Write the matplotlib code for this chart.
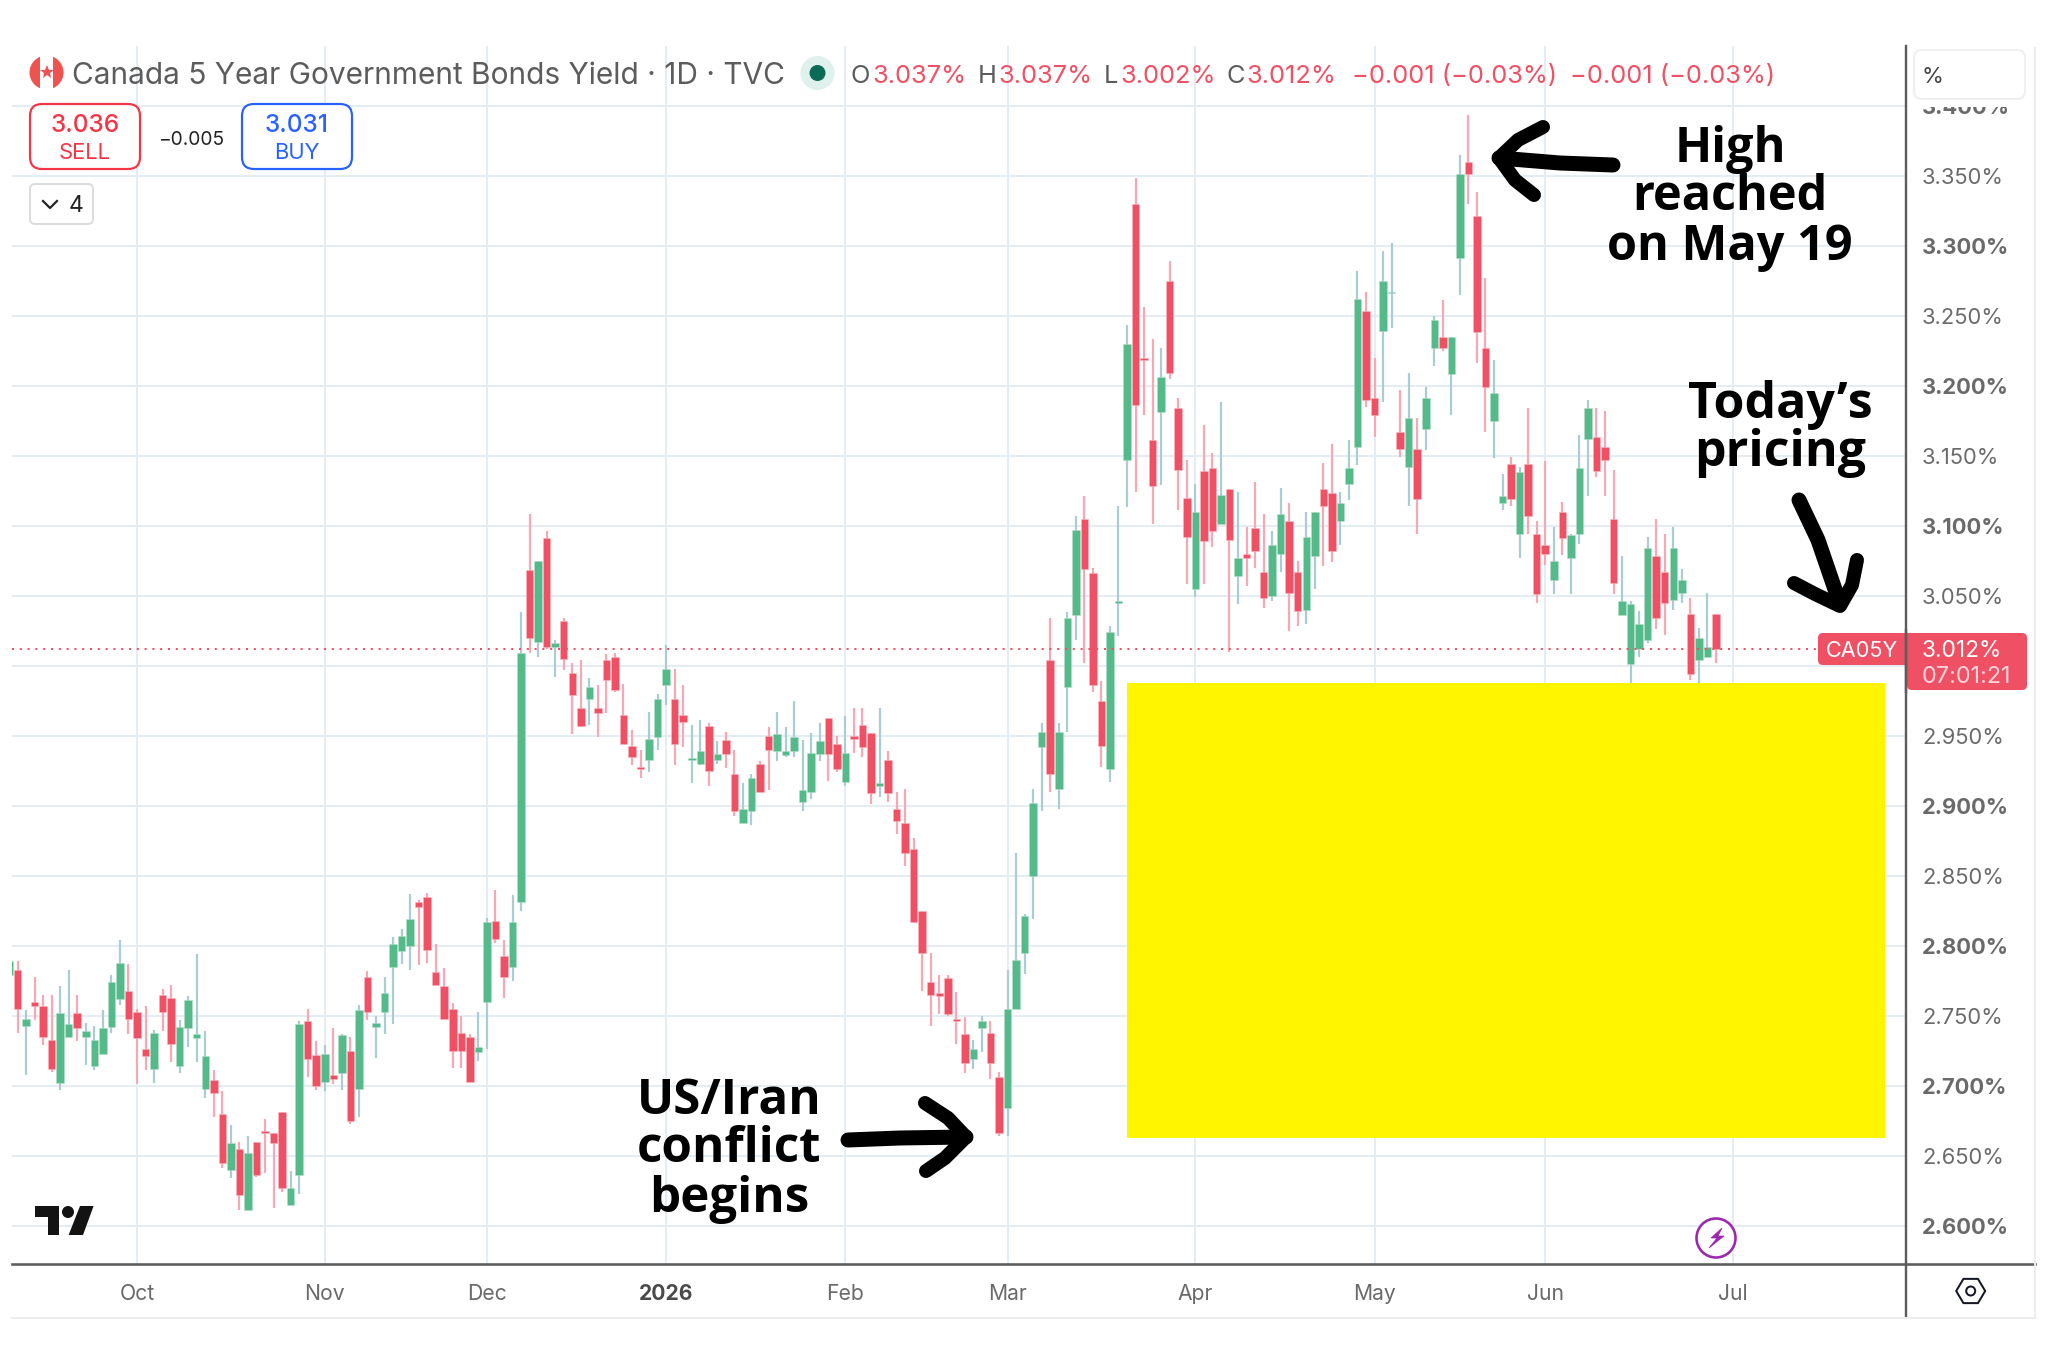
"Canada 5Y yield candles with the TradingView chrome and hand drawn notes"

import numpy as np
import matplotlib
matplotlib.use('Agg')
import matplotlib.pyplot as plt
from matplotlib.patches import Rectangle, Circle, FancyBboxPatch, Polygon

opens = [
    2.779, 2.783, 2.743, 2.760, 2.757, 2.733, 2.702, 2.735, 2.752, 2.735,
    2.714, 2.723, 2.742, 2.762, 2.768, 2.753, 2.726, 2.712, 2.765, 2.763,
    2.714, 2.741, 2.734, 2.698, 2.704, 2.680, 2.640, 2.655, 2.611, 2.660,
    2.668, 2.666, 2.681, 2.615, 2.636, 2.746, 2.722, 2.703, 2.708, 2.709,
    2.725, 2.698, 2.778, 2.742, 2.753, 2.785, 2.796, 2.800, 2.831, 2.835,
    2.781, 2.771, 2.755, 2.738, 2.735, 2.724, 2.760, 2.818, 2.793, 2.785,
    2.831, 3.068, 3.017, 3.091, 3.013, 3.032, 2.995, 2.970, 2.976, 2.970,
    3.004, 3.006, 2.965, 2.943, 2.928, 2.933, 2.949, 2.986, 2.976, 2.965,
    2.933, 2.930, 2.957, 2.933, 2.947, 2.923, 2.888, 2.896, 2.930, 2.950,
    2.939, 2.936, 2.939, 2.903, 2.910, 2.937, 2.963, 2.944, 2.917, 2.950,
    2.958, 2.952, 2.914, 2.933, 2.898, 2.888, 2.869, 2.825, 2.774, 2.766,
    2.777, 2.748, 2.737, 2.719, 2.741, 2.738, 2.706, 2.684, 2.755, 2.795,
    2.850, 2.942, 3.004, 2.912, 2.985, 3.036, 3.105, 3.066, 2.975, 2.926,
    3.045, 3.147, 3.330, 3.220, 3.161, 3.181, 3.275, 3.184, 3.120, 3.055,
    3.139, 3.141, 3.101, 3.126, 3.064, 3.080, 3.098, 3.067, 3.050, 3.080,
    3.103, 3.067, 3.040, 3.078, 3.126, 3.123, 3.103, 3.130, 3.156, 3.253,
    3.191, 3.239, 3.266, 3.167, 3.142, 3.155, 3.169, 3.227, 3.235, 3.208,
    3.291, 3.360, 3.321, 3.227, 3.175, 3.116, 3.144, 3.094, 3.144, 3.094,
    3.086, 3.061, 3.110, 3.077, 3.094, 3.162, 3.163, 3.156, 3.105, 3.036,
    3.001, 3.012, 3.018, 3.078, 3.067, 3.047, 3.052, 3.037, 3.004, 3.006,
    3.037,
]
highs = [
    2.789, 2.789, 2.754, 2.778, 2.765, 2.765, 2.771, 2.783, 2.765, 2.745,
    2.743, 2.754, 2.779, 2.804, 2.787, 2.755, 2.757, 2.740, 2.769, 2.772,
    2.747, 2.764, 2.794, 2.739, 2.711, 2.696, 2.672, 2.660, 2.664, 2.660,
    2.676, 2.666, 2.681, 2.639, 2.746, 2.755, 2.732, 2.729, 2.741, 2.737,
    2.735, 2.758, 2.782, 2.750, 2.778, 2.806, 2.812, 2.837, 2.833, 2.838,
    2.801, 2.784, 2.759, 2.750, 2.737, 2.753, 2.820, 2.840, 2.804, 2.836,
    3.038, 3.108, 3.075, 3.096, 3.018, 3.034, 3.002, 3.004, 2.991, 2.986,
    3.008, 3.009, 2.987, 2.954, 2.940, 2.967, 2.980, 3.015, 2.998, 2.986,
    2.958, 2.961, 2.959, 2.946, 2.953, 2.940, 2.916, 2.923, 2.932, 2.956,
    2.967, 2.956, 2.975, 2.947, 2.952, 2.959, 2.963, 2.950, 2.964, 2.970,
    2.970, 2.952, 2.970, 2.939, 2.910, 2.912, 2.877, 2.825, 2.795, 2.779,
    2.779, 2.767, 2.749, 2.733, 2.750, 2.746, 2.710, 2.783, 2.866, 2.823,
    2.912, 2.959, 3.034, 2.959, 3.038, 3.107, 3.121, 3.070, 2.989, 3.028,
    3.114, 3.243, 3.348, 3.256, 3.233, 3.227, 3.289, 3.191, 3.147, 3.130,
    3.172, 3.152, 3.188, 3.126, 3.124, 3.099, 3.131, 3.108, 3.096, 3.127,
    3.116, 3.075, 3.110, 3.110, 3.145, 3.158, 3.124, 3.161, 3.282, 3.267,
    3.220, 3.296, 3.302, 3.197, 3.209, 3.177, 3.199, 3.250, 3.261, 3.235,
    3.365, 3.393, 3.338, 3.277, 3.218, 3.137, 3.149, 3.142, 3.184, 3.103,
    3.146, 3.099, 3.117, 3.094, 3.165, 3.190, 3.184, 3.182, 3.140, 3.078,
    3.046, 3.039, 3.092, 3.105, 3.094, 3.099, 3.069, 3.048, 3.027, 3.052,
    3.037,
]
lows = [
    2.779, 2.738, 2.708, 2.747, 2.729, 2.710, 2.697, 2.735, 2.732, 2.715,
    2.711, 2.723, 2.738, 2.758, 2.737, 2.701, 2.711, 2.702, 2.739, 2.717,
    2.709, 2.728, 2.717, 2.691, 2.678, 2.641, 2.634, 2.611, 2.611, 2.635,
    2.638, 2.613, 2.624, 2.615, 2.623, 2.706, 2.697, 2.696, 2.701, 2.697,
    2.673, 2.678, 2.747, 2.720, 2.737, 2.744, 2.787, 2.783, 2.786, 2.788,
    2.772, 2.748, 2.713, 2.713, 2.703, 2.718, 2.726, 2.802, 2.763, 2.775,
    2.825, 3.009, 3.006, 3.012, 2.992, 2.997, 2.951, 2.956, 2.958, 2.949,
    2.966, 2.981, 2.944, 2.929, 2.920, 2.924, 2.940, 2.972, 2.929, 2.942,
    2.916, 2.929, 2.914, 2.930, 2.927, 2.893, 2.888, 2.886, 2.910, 2.911,
    2.932, 2.935, 2.935, 2.896, 2.905, 2.932, 2.918, 2.924, 2.914, 2.938,
    2.935, 2.901, 2.906, 2.903, 2.880, 2.857, 2.816, 2.768, 2.743, 2.751,
    2.750, 2.730, 2.709, 2.712, 2.724, 2.705, 2.664, 2.664, 2.755, 2.780,
    2.819, 2.896, 2.910, 2.898, 2.953, 3.018, 3.002, 2.981, 2.928, 2.917,
    3.021, 3.113, 3.124, 3.179, 3.101, 3.129, 3.205, 3.111, 3.058, 3.049,
    3.058, 3.085, 3.101, 3.010, 3.044, 3.057, 3.070, 3.041, 3.046, 3.067,
    3.025, 3.028, 3.030, 3.055, 3.071, 3.074, 3.086, 3.118, 3.143, 3.185,
    3.163, 3.188, 3.241, 3.149, 3.114, 3.094, 3.154, 3.214, 3.225, 3.179,
    3.265, 3.330, 3.216, 3.167, 3.148, 3.111, 3.114, 3.077, 3.094, 3.045,
    3.072, 3.051, 3.079, 3.051, 3.087, 3.121, 3.135, 3.121, 3.051, 3.036,
    2.985, 3.006, 3.016, 3.026, 3.022, 3.040, 3.045, 2.990, 2.985, 3.006,
    3.002,
]
closes = [
    2.789, 2.755, 2.748, 2.757, 2.735, 2.712, 2.752, 2.744, 2.741, 2.739,
    2.733, 2.741, 2.774, 2.788, 2.748, 2.734, 2.721, 2.738, 2.753, 2.730,
    2.742, 2.761, 2.737, 2.721, 2.695, 2.645, 2.659, 2.622, 2.652, 2.636,
    2.666, 2.659, 2.627, 2.627, 2.744, 2.719, 2.700, 2.723, 2.705, 2.736,
    2.675, 2.754, 2.753, 2.745, 2.766, 2.801, 2.807, 2.819, 2.828, 2.797,
    2.772, 2.748, 2.725, 2.725, 2.703, 2.728, 2.817, 2.805, 2.778, 2.817,
    3.009, 3.020, 3.075, 3.013, 3.016, 3.005, 2.979, 2.957, 2.985, 2.966,
    2.990, 2.983, 2.944, 2.935, 2.926, 2.948, 2.976, 2.998, 2.944, 2.960,
    2.934, 2.939, 2.925, 2.937, 2.937, 2.896, 2.898, 2.920, 2.910, 2.940,
    2.951, 2.939, 2.949, 2.911, 2.938, 2.946, 2.937, 2.926, 2.938, 2.948,
    2.942, 2.909, 2.916, 2.909, 2.889, 2.866, 2.817, 2.795, 2.765, 2.764,
    2.751, 2.746, 2.716, 2.726, 2.746, 2.716, 2.666, 2.755, 2.790, 2.821,
    2.902, 2.953, 2.923, 2.953, 3.034, 3.097, 3.069, 2.986, 2.943, 3.024,
    3.046, 3.230, 3.186, 3.218, 3.128, 3.206, 3.209, 3.140, 3.092, 3.110,
    3.089, 3.096, 3.122, 3.090, 3.077, 3.077, 3.082, 3.048, 3.086, 3.108,
    3.052, 3.039, 3.092, 3.110, 3.114, 3.082, 3.116, 3.141, 3.262, 3.190,
    3.179, 3.275, 3.267, 3.155, 3.177, 3.119, 3.191, 3.247, 3.227, 3.235,
    3.351, 3.351, 3.238, 3.199, 3.195, 3.121, 3.119, 3.138, 3.107, 3.051,
    3.080, 3.075, 3.091, 3.093, 3.141, 3.184, 3.139, 3.147, 3.059, 3.046,
    3.044, 3.030, 3.084, 3.034, 3.045, 3.084, 3.061, 2.994, 3.020, 3.013,
    3.012,
]

y_ticks = [2.60, 2.65, 2.70, 2.75, 2.80, 2.85, 2.90, 2.95, 3.00, 3.05, 3.10,
           3.15, 3.20, 3.25, 3.30, 3.35, 3.40]
bold_ticks = [2.60, 2.70, 2.80, 2.90, 3.10, 3.20, 3.30, 3.40]
hidden_tick = 3.00  # sits behind the price label
month_pos = [15, 37, 56, 77, 98, 117, 139, 160, 180, 202]
month_names = ['Oct', 'Nov', 'Dec', '2026', 'Feb', 'Mar', 'Apr', 'May', 'Jun', 'Jul']
last_price = 3.012

RED = '#EF5064'
GREEN = '#54BA89'
RED_WICK = '#F7A8B4'
GREEN_WICK = '#A8CDD3'
GRID = '#E4EDF3'
AXIS = '#5D5D5D'
LABEL = '#6A6A6A'
PX = 0.72  # one image pixel in points
FONT = 'Inter'

plt.rcParams['font.family'] = [FONT, 'DejaVu Sans']

W, H = 2048, 1365
fig = plt.figure(figsize=(W / 100, H / 100), dpi=100, facecolor='white')

# main chart, placed so that 0.05% = 70 px and one bar = 8.535 px
left, right, top, bottom = 12.4, 1906.0, 46.0, 1263.7
ax = fig.add_axes([left / W, 1 - bottom / H, (right - left) / W, (bottom - top) / H])
ax.set_xlim(0.402, 222.27)
ax.set_ylim(2.5729, 3.4426)
for s in ax.spines.values():
    s.set_visible(False)

o = np.array(opens)
h = np.array(highs)
l = np.array(lows)
c = np.array(closes)
x = np.arange(len(c))
down = c < o

ax.set_axisbelow(True)
ax.grid(True, color=GRID, lw=2 * PX)
ax.vlines(x, l, h, colors=np.where(down, RED_WICK, GREEN_WICK), lw=2.2 * PX, zorder=2)
ax.bar(x, np.abs(c - o), bottom=np.minimum(o, c), width=0.88,
       color=np.where(down, RED, GREEN), edgecolor=np.where(down, '#F9B9C2', '#B5DCCB'),
       lw=0.5 * PX, zorder=3)
ax.axhline(last_price, color=RED, lw=2 * PX, ls=(0, (1, 2.9)), zorder=4)

ax.yaxis.tick_right()
ax.set_yticks(y_ticks)
ax.set_yticklabels(['' if v == hidden_tick else '%.3f%%' % v for v in y_ticks])
ax.set_xticks(month_pos)
ax.set_xticklabels(month_names)
ax.tick_params(axis='y', length=0, labelsize=15.8, labelcolor=LABEL, pad=11.5)
ax.tick_params(axis='x', length=0, labelsize=15.2, labelcolor=LABEL, pad=14.5)
for lab, v in zip(ax.get_yticklabels(), y_ticks):
    if v in bold_ticks:
        lab.set_fontweight('bold')
for lab in ax.get_xticklabels():
    if lab.get_text() == '2026':
        lab.set_fontweight('bold')
        lab.set_color('#4A4A4A')

# overlay in image pixels for everything that is not data
ov = fig.add_axes([0, 0, 1, 1], zorder=10)
ov.set_xlim(0, W)
ov.set_ylim(H, 0)
ov.axis('off')


def txt(px, py, s, size, color='#555555', ha='left', va='center', **kw):
    return ov.text(px, py, s, fontsize=size, color=color, ha=ha, va=va, **kw)


def box(x0, y0, x1, y1, edge, face='white', r=8, lw=2):
    ov.add_patch(FancyBboxPatch((x0 + r, y0 + r), x1 - x0 - 2 * r, y1 - y0 - 2 * r,
                                boxstyle='round,pad=%d' % r, ec=edge, fc=face, lw=lw * PX))


# yellow block over the latest part of the chart
ov.add_patch(Rectangle((1127.3, 683), 1885 - 1127.3, 1137.5 - 683, fc='#FFF500', ec='none'))

# frame
ov.plot([1906, 1906], [46, 1317], color=AXIS, lw=2.4 * PX)
ov.plot([12, 2035], [1263.7, 1263.7], color=AXIS, lw=2.6 * PX)
ov.plot([12, 2035], [1318, 1318], color='#EDEDED', lw=2 * PX)
ov.plot([2035, 2035], [48, 1318], color='#EDEDED', lw=2 * PX)

# white cover and % box above the price scale
ov.add_patch(Rectangle((1908, 47), 126, 60, fc='white', ec='none'))
box(1914, 50, 2025, 99, '#EFEFEF')
txt(1922, 77, '%', 16, '#444444')

# legend row
flag = Circle((46.5, 72.5), 17, fc='white', ec='none')
ov.add_patch(flag)
for x0 in (29, 53):
    r = Rectangle((x0, 55), 11, 35, fc='#EF5350', ec='none')
    ov.add_patch(r)
    r.set_clip_path(flag)
ov.plot([46.5], [72], marker='*', ms=10, color='#EF5350', mew=0)
txt(72, 76.5, 'Canada 5 Year Government Bonds Yield · 1D · TVC', 21.5, '#5C5C5C')
ov.add_patch(Circle((817.5, 73), 17, fc='#E0F0EC', ec='none'))
ov.add_patch(Circle((817.5, 73), 8, fc='#0B6B57', ec='none'))

ohlc_red = '#EF5064'
for px, s, col in [(850, 'O', '#5C5C5C'), (872, '3.037%', ohlc_red),
                   (978, 'H', '#5C5C5C'), (998, '3.037%', ohlc_red),
                   (1104, 'L', '#5C5C5C'), (1120, '3.002%', ohlc_red),
                   (1226, 'C', '#5C5C5C'), (1246, '3.012%', ohlc_red),
                   (1352, '−0.001 (−0.03%)', ohlc_red),
                   (1570, '−0.001 (−0.03%)', ohlc_red)]:
    txt(px, 76.5, s, 18.3, col)

# sell / buy boxes
box(30, 104, 140, 169, '#F23645', r=12, lw=2.2)
txt(85, 126, '3.036', 17.6, '#F23645', ha='center', fontweight='medium')
txt(85, 153, 'SELL', 15.8, '#F23645', ha='center')
txt(191, 140, '−0.005', 13.8, '#222222', ha='center')
box(242, 104, 352, 169, '#2962FF', r=12, lw=2.2)
txt(297, 126, '3.031', 17.6, '#2962FF', ha='center', fontweight='medium')
txt(297, 153, 'BUY', 15.8, '#2962FF', ha='center')
box(30, 184, 93, 224, '#DCDCDC', r=5, lw=2)
ov.plot([43, 50, 57], [201, 208, 201], color='#222222', lw=2.2 * PX)
txt(76, 206.5, '4', 16.5, '#222222', ha='center')

# price label
box(1818, 633, 1920, 665, RED, face=RED, r=5, lw=0)
box(1907, 633, 2027, 690, RED, face=RED, r=5, lw=0)
ov.plot([1906, 1906], [630, 692], color=AXIS, lw=2.4 * PX)
txt(1862, 651, 'CA05Y', 15.6, 'white', ha='center')
txt(1922, 651, '3.012%', 16.4, 'white')
txt(1922, 677, '07:01:21', 16.8, '#FBD5DA')

# TradingView logo
ov.add_patch(Polygon([(35, 1206), (59, 1206), (59, 1235), (47.5, 1235), (47.5, 1217), (35, 1217)],
                     fc='#131313', ec='none'))
ov.add_patch(Circle((68, 1212), 6, fc='#131313', ec='none'))
ov.add_patch(Polygon([(93.6, 1206), (80, 1206), (68.6, 1235), (83, 1235)], fc='#131313', ec='none'))

# lightning badge
ov.add_patch(Circle((1716, 1238), 19.5, fc='white', ec='#9C27B0', lw=2.6 * PX))
ov.add_patch(Polygon([(1722, 1228), (1711, 1238), (1717, 1238), (1709, 1248),
                      (1724, 1236), (1718, 1236)], fc='#9C27B0', ec='#9C27B0', lw=0.5))

# settings hexagon
ang = np.radians(np.arange(0, 360, 60))
ov.add_patch(Polygon(np.c_[1970.7 + 14.5 * np.cos(ang), 1291 + 14 * np.sin(ang)],
                     fc='white', ec='#131722', lw=2 * PX, joinstyle='round'))
ov.add_patch(Circle((1970.7, 1291), 4.5, fc='white', ec='#131722', lw=2 * PX))

# hand drawn notes
NOTE = dict(family='Open Sans', fontweight='bold', color='black', ha='center')
for py, s in [(149, 'High'), (198, 'reached'), (247, 'on May 19')]:
    txt(1730, py, s, 35, **NOTE)
for py, s in [(405, 'Today’s'), (453, 'pricing')]:
    txt(1780, py, s, 36, **NOTE)
for py, s in [(1102, 'US/Iran'), (1150, 'conflict'), (1199, 'begins')]:
    txt(729, py, s, 35.5, **NOTE)


def stroke(pts, width):
    xs, ys = zip(*pts)
    ov.plot(xs, ys, color='black', lw=width * PX, solid_capstyle='round', solid_joinstyle='round')


stroke([(848, 1140), (900, 1138), (966, 1137)], 15)
stroke([(925, 1103), (948, 1118), (966, 1137), (945, 1158), (926, 1171)], 14)

stroke([(1613, 165), (1560, 163), (1499, 158)], 15)
stroke([(1543, 127), (1518, 140), (1499, 158), (1515, 180), (1534, 195)], 14)

stroke([(1799, 500), (1818, 540), (1840, 604)], 15)
stroke([(1794, 583), (1815, 594), (1840, 606), (1852, 585), (1857, 560)], 14)

fig.savefig('out.png', dpi=100, facecolor='white')
